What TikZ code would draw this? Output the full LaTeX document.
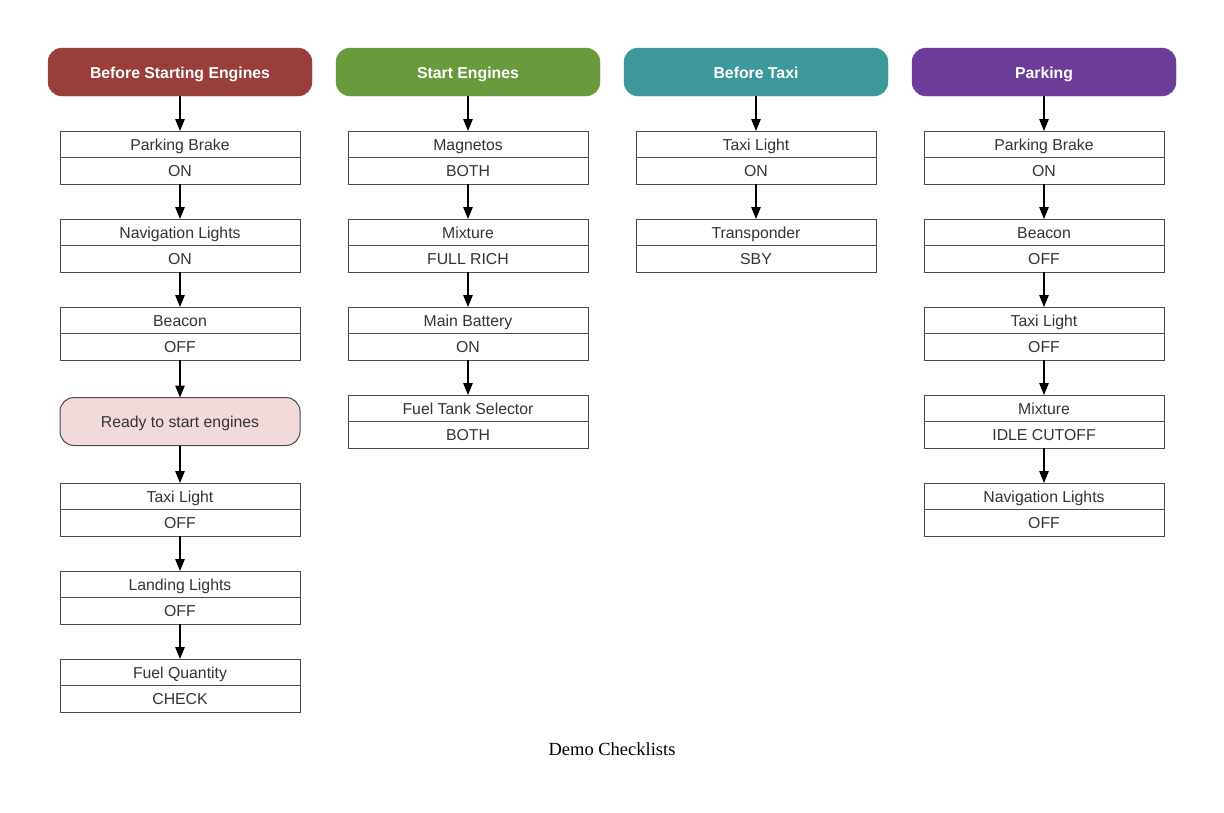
\documentclass[tikz,border=0pt]{standalone}
\usepackage{fontspec}
\setmainfont{Liberation Sans}
\newfontfamily\capfont{Liberation Serif}
\usetikzlibrary{arrows.meta,positioning}

\definecolor{hdrred}{HTML}{993D3D}
\definecolor{hdrgreen}{HTML}{6A9A3B}
\definecolor{hdrteal}{HTML}{3D9999}
\definecolor{hdrpurple}{HTML}{6B3D99}
\definecolor{notepink}{HTML}{F2DADA}
\definecolor{boxgray}{HTML}{4A4A4A}
\definecolor{txtgray}{HTML}{333333}

\tikzset{
  head/.style={draw=#1, fill=#1, rounded corners=14pt, minimum width=264pt,
    minimum height=48pt, outer sep=0pt, text=white, text height=13pt, text depth=0.8pt,
    font=\fontsize{15.8}{19}\selectfont\bfseries},
  itemname/.style={draw=boxgray, line width=1pt, minimum width=240pt,
    minimum height=26.5pt, inner sep=0pt, outer sep=0pt, text=txtgray,
    text height=13pt, text depth=0.8pt,
    font=\fontsize{15.8}{19}\selectfont},
  itemval/.style={itemname},
  note/.style={itemname, fill=notepink, rounded corners=14pt, minimum height=48pt},
  flow/.style={-{Triangle[length=12pt,width=9.5pt]}, line width=1.2pt, black}
}

\begin{document}
\begin{tikzpicture}[x=1pt,y=-1pt]
\useasboundingbox (0,0) rectangle (1224,812);

% before starting engines
\node[head=hdrred] (hA) at (180,72) {Before Starting Engines};
\node[itemname, below=35pt of hA] (a1n) {Parking Brake};
\node[itemval, below=0pt of a1n] (a1v) {ON};
\node[itemname, below=35pt of a1v] (a2n) {Navigation Lights};
\node[itemval, below=0pt of a2n] (a2v) {ON};
\node[itemname, below=35pt of a2v] (a3n) {Beacon};
\node[itemval, below=0pt of a3n] (a3v) {OFF};
\node[note, below=37.5pt of a3v] (aready) {Ready to start engines};
\node[itemname, below=37.5pt of aready] (a4n) {Taxi Light};
\node[itemval, below=0pt of a4n] (a4v) {OFF};
\node[itemname, below=35pt of a4v] (a5n) {Landing Lights};
\node[itemval, below=0pt of a5n] (a5v) {OFF};
\node[itemname, below=35pt of a5v] (a6n) {Fuel Quantity};
\node[itemval, below=0pt of a6n] (a6v) {CHECK};
\draw[flow] (hA) -- (a1n);
\draw[flow] (a1v) -- (a2n);
\draw[flow] (a2v) -- (a3n);
\draw[flow] (a3v) -- (aready);
\draw[flow] (aready) -- (a4n);
\draw[flow] (a4v) -- (a5n);
\draw[flow] (a5v) -- (a6n);

% start engines
\node[head=hdrgreen] (hB) at (468,72) {Start Engines};
\node[itemname, below=35pt of hB] (b1n) {Magnetos};
\node[itemval, below=0pt of b1n] (b1v) {BOTH};
\node[itemname, below=35pt of b1v] (b2n) {Mixture};
\node[itemval, below=0pt of b2n] (b2v) {FULL RICH};
\node[itemname, below=35pt of b2v] (b3n) {Main Battery};
\node[itemval, below=0pt of b3n] (b3v) {ON};
\node[itemname, below=35pt of b3v] (b4n) {Fuel Tank Selector};
\node[itemval, below=0pt of b4n] (b4v) {BOTH};
\draw[flow] (hB) -- (b1n);
\draw[flow] (b1v) -- (b2n);
\draw[flow] (b2v) -- (b3n);
\draw[flow] (b3v) -- (b4n);

% before taxi
\node[head=hdrteal] (hC) at (756,72) {Before Taxi};
\node[itemname, below=35pt of hC] (c1n) {Taxi Light};
\node[itemval, below=0pt of c1n] (c1v) {ON};
\node[itemname, below=35pt of c1v] (c2n) {Transponder};
\node[itemval, below=0pt of c2n] (c2v) {SBY};
\draw[flow] (hC) -- (c1n);
\draw[flow] (c1v) -- (c2n);

% parking
\node[head=hdrpurple] (hD) at (1044,72) {Parking};
\node[itemname, below=35pt of hD] (d1n) {Parking Brake};
\node[itemval, below=0pt of d1n] (d1v) {ON};
\node[itemname, below=35pt of d1v] (d2n) {Beacon};
\node[itemval, below=0pt of d2n] (d2v) {OFF};
\node[itemname, below=35pt of d2v] (d3n) {Taxi Light};
\node[itemval, below=0pt of d3n] (d3v) {OFF};
\node[itemname, below=35pt of d3v] (d4n) {Mixture};
\node[itemval, below=0pt of d4n] (d4v) {IDLE CUTOFF};
\node[itemname, below=35pt of d4v] (d5n) {Navigation Lights};
\node[itemval, below=0pt of d5n] (d5v) {OFF};
\draw[flow] (hD) -- (d1n);
\draw[flow] (d1v) -- (d2n);
\draw[flow] (d2v) -- (d3n);
\draw[flow] (d3v) -- (d4n);
\draw[flow] (d4v) -- (d5n);

\node[font=\capfont\fontsize{18.5}{22}\selectfont] (title) at (612,749) {Demo Checklists};
\end{tikzpicture}
\end{document}
